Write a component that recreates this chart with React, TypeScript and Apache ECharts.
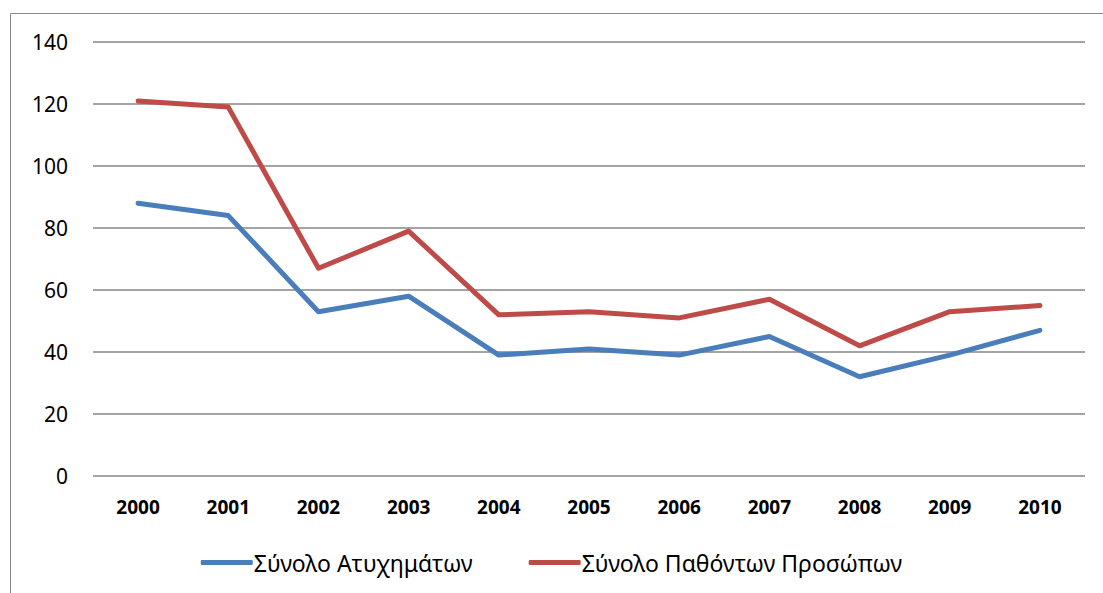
import React, { useEffect, useRef } from "react";
import * as echarts from "echarts";

const years = ["2000", "2001", "2002", "2003", "2004", "2005", "2006", "2007", "2008", "2009", "2010"];
const accidents = [88, 84, 53, 58, 39, 41, 39, 45, 32, 39, 47];
const victims = [121, 119, 67, 79, 52, 53, 51, 57, 42, 53, 55];
const seriesNames = ["Σύνολο Ατυχημάτων", "Σύνολο Παθόντων Προσώπων"];
const colors = ["#4A7EBB", "#BE4B48"];

export default function App() {
  const ref = useRef<HTMLDivElement>(null);
  useEffect(() => {
    if (!ref.current) return;
    const chart = echarts.init(ref.current, undefined, { renderer: "svg" });
    chart.setOption({
      animation: false,
      backgroundColor: "#fff",
      graphic: [
        {
          type: "rect",
          shape: { x: 10.5, y: 13.5, width: 1200, height: 700 },
          style: { fill: "none", stroke: "#868686", lineWidth: 1 },
          silent: true,
        },
      ],
      grid: { left: 93, right: 18, top: 42, bottom: 117 },
      legend: {
        bottom: 14,
        left: "center",
        itemWidth: 52,
        itemHeight: 5,
        itemGap: 56,
        icon: "roundRect",
        textStyle: { fontFamily: "Noto Sans", fontSize: 23, color: "#000", padding: [0, 0, 0, -4] },
        data: seriesNames,
      },
      xAxis: {
        type: "category",
        data: years,
        boundaryGap: true,
        axisLine: { show: false },
        axisTick: { show: false },
        axisLabel: { fontFamily: "Noto Sans", fontWeight: "bold", fontSize: 19, color: "#000", margin: 21 },
      },
      yAxis: {
        type: "value",
        min: 0,
        max: 140,
        interval: 20,
        axisLine: { show: false },
        axisTick: { show: false },
        axisLabel: { fontFamily: "Noto Sans", fontSize: 21, color: "#000", margin: 25 },
        splitLine: { lineStyle: { color: "#868686", width: 1.5 } },
      },
      series: [
        {
          name: seriesNames[0],
          type: "line",
          data: accidents,
          symbol: "none",
          color: colors[0],
          lineStyle: { width: 5, color: colors[0], cap: "round", join: "round" },
        },
        {
          name: seriesNames[1],
          type: "line",
          data: victims,
          symbol: "none",
          color: colors[1],
          lineStyle: { width: 5, color: colors[1], cap: "round", join: "round" },
        },
      ],
    });
    return () => chart.dispose();
  }, []);
  return <div ref={ref} style={{ position: "absolute", left: 0, top: 0, width: 1103, height: 593 }} />;
}
